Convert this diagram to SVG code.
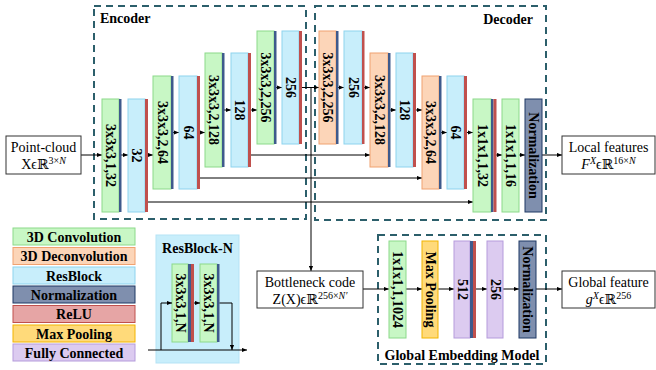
<svg xmlns="http://www.w3.org/2000/svg" width="656" height="370" viewBox="0 0 656 370">
<defs>
<marker id="ah" viewBox="0 0 6 6" refX="6" refY="3" markerWidth="5" markerHeight="5" orient="auto" markerUnits="userSpaceOnUse"><path d="M0,0.5 L6,3 L0,5.5 z" fill="#000"/></marker>
<style>
text{font-family:"Liberation Serif","DejaVu Serif",serif;fill:#000}
.b{font-weight:bold;font-size:14px}
.r{font-size:14px}
.v{font-weight:bold;font-size:14px;text-anchor:middle;dominant-baseline:central}
.m{text-anchor:middle}
.conv{fill:#c8f7c5;stroke:#8cd98a;stroke-width:1}
.deconv{fill:#fcd5b8;stroke:#f0a270;stroke-width:1}
.res{fill:#c8eefb;stroke:#8ed3ee;stroke-width:1}
.norm{fill:#7f8fae;stroke:#1f3864;stroke-width:1}
.pool{fill:#ffda7a;stroke:#f2b400;stroke-width:1}
.fc{fill:#dccbf0;stroke:#b59bdc;stroke-width:1}
.reluL{fill:#e6a5a5;stroke:#c0504d;stroke-width:1}
.bs{fill:#3e5a8c}
.rs{fill:#c0504d}
.box{fill:#fff;stroke:#333;stroke-width:1}
.dash{fill:none;stroke:#2c5f6b;stroke-width:2;stroke-dasharray:7 5}
.ln{fill:none;stroke:#000;stroke-width:1}
.la{fill:none;stroke:#000;stroke-width:1;marker-end:url(#ah)}
.sup{font-size:10px}
</style>
</defs>

<g id="encoder-frame"><rect class="dash" x="94" y="6" width="212" height="213"/><text class="b" x="100" y="23">Encoder</text></g>
<g id="decoder-frame"><rect class="dash" x="315" y="6" width="231" height="214"/><text class="b" x="533" y="24" text-anchor="end">Decoder</text></g>
<g id="gem-frame"><rect class="dash" x="378" y="235" width="168" height="129"/><text class="b m" x="462" y="360">Global Embedding Model</text></g>

<g id="connectors">
<line class="la" x1="81" y1="155" x2="102" y2="155"/>
<line class="la" x1="121" y1="155" x2="128" y2="155"/>
<line class="la" x1="148" y1="155" x2="153" y2="155"/>
<line class="la" x1="173" y1="132.5" x2="179" y2="132.5"/>
<line class="la" x1="200" y1="132.5" x2="205" y2="132.5"/>
<line class="la" x1="224" y1="110" x2="231" y2="110"/>
<line class="la" x1="251" y1="110" x2="257" y2="110"/>
<line class="la" x1="276" y1="87.5" x2="282" y2="87.5"/>
<line class="la" x1="302" y1="87.5" x2="319" y2="87.5"/>
<polyline class="la" points="311,87.5 311,271"/>
<line class="la" x1="338" y1="87.5" x2="344" y2="87.5"/>
<line class="la" x1="364" y1="87.5" x2="370" y2="87.5"/>
<line class="la" x1="390" y1="110" x2="396" y2="110"/>
<line class="la" x1="416" y1="110" x2="422" y2="110"/>
<line class="la" x1="441" y1="132.5" x2="447" y2="132.5"/>
<line class="la" x1="467" y1="132.5" x2="473" y2="132.5"/>
<line class="la" x1="496" y1="155" x2="502" y2="155"/>
<line class="la" x1="519" y1="155" x2="525" y2="155"/>
<line class="la" x1="542" y1="155" x2="562" y2="155"/>
<line class="la" x1="251" y1="155" x2="370" y2="155"/>
<line class="la" x1="200" y1="178" x2="422" y2="178"/>
<line class="la" x1="148" y1="202" x2="473" y2="202"/>
<line class="la" x1="363" y1="289" x2="389" y2="289"/>
<line class="la" x1="406" y1="289" x2="422" y2="289"/>
<line class="la" x1="438" y1="289" x2="454" y2="289"/>
<line class="la" x1="476" y1="289" x2="487" y2="289"/>
<line class="la" x1="503" y1="289" x2="519" y2="289"/>
<line class="la" x1="536" y1="289" x2="562" y2="289"/>
</g>

<g id="point-cloud"><rect class="box" x="6" y="136" width="75" height="38"/><text class="r m" x="43.5" y="152">Point-cloud</text><text class="r m" x="43.5" y="169">X<tspan>ϵ</tspan>ℝ<tspan class="sup" dy="-5">3×<tspan font-style="italic">N</tspan></tspan></text></g>

<g id="enc-conv1"><rect class="conv" x="102" y="99" width="17" height="113"/><rect class="bs" x="119" y="99" width="2.5" height="113"/><text class="v" transform="translate(110.5,155.5) rotate(90)">3x3x3,1,32</text></g>
<g id="enc-res32"><rect class="res" x="128" y="99" width="17" height="113"/><rect class="rs" x="145" y="99" width="3" height="113"/><text class="v" transform="translate(136.5,155.5) rotate(90)">32</text></g>
<g id="enc-conv2"><rect class="conv" x="153" y="76" width="18" height="113"/><rect class="bs" x="171" y="76" width="2.5" height="113"/><text class="v" transform="translate(162,132.5) rotate(90)">3x3x3,2,64</text></g>
<g id="enc-res64"><rect class="res" x="179" y="76" width="18" height="113"/><rect class="rs" x="197" y="76" width="3" height="113"/><text class="v" transform="translate(188,132.5) rotate(90)">64</text></g>
<g id="enc-conv3"><rect class="conv" x="205" y="53" width="17" height="114"/><rect class="bs" x="222" y="53" width="2.5" height="114"/><text class="v" transform="translate(213.5,110) rotate(90)">3x3x3,2,128</text></g>
<g id="enc-res128"><rect class="res" x="231" y="53" width="17" height="114"/><rect class="rs" x="248" y="53" width="3" height="114"/><text class="v" transform="translate(239.5,110) rotate(90)">128</text></g>
<g id="enc-conv4"><rect class="conv" x="257" y="31" width="17" height="113"/><rect class="bs" x="274" y="31" width="2.5" height="113"/><text class="v" transform="translate(265.5,87.5) rotate(90)">3x3x3,2,256</text></g>
<g id="enc-res256"><rect class="res" x="282" y="31" width="17" height="113"/><rect class="rs" x="299" y="31" width="3" height="113"/><text class="v" transform="translate(290.5,87.5) rotate(90)">256</text></g>

<g id="dec-deconv1"><rect class="deconv" x="319" y="31" width="17" height="113"/><rect class="bs" x="336" y="31" width="2.5" height="113"/><text class="v" transform="translate(327.5,87.5) rotate(90)">3x3x3,2,256</text></g>
<g id="dec-res256"><rect class="res" x="344" y="31" width="18" height="113"/><rect class="rs" x="362" y="31" width="2.5" height="113"/><text class="v" transform="translate(353,87.5) rotate(90)">256</text></g>
<g id="dec-deconv2"><rect class="deconv" x="370" y="53" width="18" height="114"/><rect class="bs" x="388" y="53" width="2.5" height="114"/><text class="v" transform="translate(379,110) rotate(90)">3x3x3,2,128</text></g>
<g id="dec-res128"><rect class="res" x="396" y="53" width="17" height="114"/><rect class="rs" x="413" y="53" width="3" height="114"/><text class="v" transform="translate(404.5,110) rotate(90)">128</text></g>
<g id="dec-deconv3"><rect class="deconv" x="422" y="76" width="17" height="113"/><rect class="bs" x="439" y="76" width="2.5" height="113"/><text class="v" transform="translate(430.5,132.5) rotate(90)">3x3x3,2,64</text></g>
<g id="dec-res64"><rect class="res" x="447" y="76" width="17" height="113"/><rect class="rs" x="464" y="76" width="3" height="113"/><text class="v" transform="translate(455.5,132.5) rotate(90)">64</text></g>
<g id="dec-conv32"><rect class="conv" x="473" y="99" width="18" height="113"/><rect class="bs" x="491" y="99" width="2.5" height="113"/><rect class="rs" x="493.5" y="99" width="3" height="113"/><text class="v" transform="translate(482,155.5) rotate(90)">1x1x1,1,32</text></g>
<g id="dec-conv16"><rect class="conv" x="502" y="99" width="17" height="113"/><text class="v" transform="translate(510.5,155.5) rotate(90)">1x1x1,1,16</text></g>
<g id="dec-norm"><rect class="norm" x="525" y="99" width="17" height="113"/><text class="v" transform="translate(533.5,155.5) rotate(90)">Normalization</text></g>

<g id="local-features"><rect class="box" x="562" y="136" width="93" height="38"/><text class="r m" x="608.5" y="152">Local features</text><text class="r m" x="608.5" y="169"><tspan font-style="italic">F</tspan><tspan class="sup" dy="-5" font-style="italic">X</tspan><tspan dy="5">ϵ</tspan>ℝ<tspan class="sup" dy="-5">16×<tspan font-style="italic">N</tspan></tspan></text></g>

<g id="bottleneck"><rect class="box" x="257" y="271" width="106" height="37"/><text class="r m" x="310" y="287">Bottleneck code</text><text class="r m" x="310" y="304">Z(X)ϵℝ<tspan class="sup" dy="-5">256×<tspan font-style="italic">N′</tspan></tspan></text></g>

<g id="gem-conv"><rect class="conv" x="389" y="241" width="17" height="97"/><text class="v" transform="translate(397.5,289.5) rotate(90)">1x1x1,1,1024</text></g>
<g id="gem-pool"><rect class="pool" x="422" y="241" width="16" height="97"/><text class="v" transform="translate(430,289.5) rotate(90)">Max Pooling</text></g>
<g id="gem-fc512"><rect class="fc" x="454" y="241" width="16" height="97"/><rect class="bs" x="470" y="241" width="3" height="97"/><rect class="rs" x="473" y="241" width="3" height="97"/><text class="v" transform="translate(462,289.5) rotate(90)">512</text></g>
<g id="gem-fc256"><rect class="fc" x="487" y="241" width="16" height="97"/><text class="v" transform="translate(495,289.5) rotate(90)">256</text></g>
<g id="gem-norm"><rect class="norm" x="519" y="241" width="17" height="97"/><text class="v" transform="translate(527.5,289.5) rotate(90)">Normalization</text></g>

<g id="global-feature"><rect class="box" x="562" y="271" width="93" height="37"/><text class="r m" x="608.5" y="287">Global feature</text><text class="r m" x="608.5" y="304"><tspan font-style="italic">g</tspan><tspan class="sup" dy="-5" font-style="italic">X</tspan><tspan dy="5">ϵ</tspan>ℝ<tspan class="sup" dy="-5">256</tspan></text></g>

<g id="legend">
<rect class="conv" x="13" y="228" width="122" height="17"/><text class="b m" x="74" y="241.5">3D Convolution</text>
<rect class="deconv" x="13" y="247.5" width="122" height="17"/><text class="b m" x="74" y="261">3D Deconvolution</text>
<rect class="res" x="13" y="267" width="122" height="17"/><text class="b m" x="74" y="280.5">ResBlock</text>
<rect class="norm" x="13" y="286" width="122" height="17"/><text class="b m" x="74" y="299.5">Normalization</text>
<rect class="reluL" x="13" y="305.5" width="122" height="17"/><text class="b m" x="74" y="319">ReLU</text>
<rect class="pool" x="13" y="325" width="122" height="17"/><text class="b m" x="74" y="338.5">Max Pooling</text>
<rect class="fc" x="13" y="344" width="122" height="17"/><text class="b m" x="74" y="357.5">Fully Connected</text>
</g>

<g id="resblock-n">
<rect x="156" y="235" width="83" height="128" fill="#c8eefb" stroke="#b5e3f5" stroke-width="1"/>
<text class="b m" x="197.5" y="253">ResBlock-N</text>
<rect class="conv" x="172" y="264" width="16" height="78"/><rect class="bs" x="188" y="264" width="3" height="78"/><rect class="rs" x="191" y="264" width="3" height="78"/>
<text class="v" transform="translate(180,303) rotate(90)">3x3x3,1,N</text>
<rect class="conv" x="200" y="264" width="17" height="78"/><rect class="bs" x="217" y="264" width="2.5" height="78"/>
<text class="v" transform="translate(208.5,303) rotate(90)">3x3x3,1,N</text>
<line class="la" x1="148" y1="350" x2="247" y2="350"/>
<polyline class="la" points="161,350 161,303 172,303"/>
<line class="la" x1="194" y1="303" x2="200" y2="303"/>
<polyline class="la" points="219.5,303 232,303 232,350"/>
</g>
</svg>
